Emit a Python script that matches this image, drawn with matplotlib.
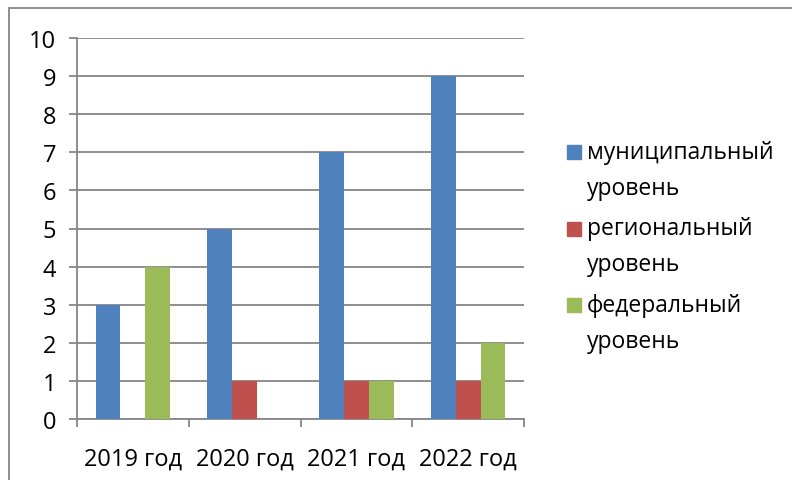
import matplotlib.pyplot as plt
import matplotlib.patches as mpatches
import numpy as np

plt.rcParams['font.family'] = ['Open Sans', 'DejaVu Sans']

years = ["2019 год", "2020 год", "2021 год", "2022 год"]
series_names = ["муниципальный уровень", "региональный уровень", "федеральный уровень"]
municipal = [3, 5, 7, 9]
regional = [0, 1, 1, 1]
federal = [4, 0, 1, 2]
colors = ["#4F81BD", "#C0504D", "#9BBB59"]

W, H = 792, 481
fig = plt.figure(figsize=(W / 100, H / 100), dpi=100)
ax = fig.add_axes([77 / W, 1 - 420 / H, 447 / W, 381 / H])

x = np.arange(len(years))
w = 1 / 4.5
for i, vals in enumerate([municipal, regional, federal]):
    ax.bar(x + (i - 1) * w, vals, width=w, color=colors[i], zorder=3)

ax.set_xlim(-0.5, len(years) - 0.5)
ax.set_ylim(0, 10)
ax.set_yticks(range(0, 11))
ax.yaxis.grid(True, color="#868686", linewidth=1.3, zorder=0)
ax.set_xticks(x)
ax.set_xticklabels(years)
ax.set_xticks(np.arange(-0.5, len(years)), minor=True)
ax.tick_params(axis="x", which="major", length=0, pad=20, labelsize=17)
ax.tick_params(axis="x", which="minor", length=6, width=1.3, color="#868686", direction="out")
ax.tick_params(axis="y", length=6, width=1.3, color="#868686", labelsize=17, pad=9)
for s in ["top", "right"]:
    ax.spines[s].set_visible(False)
for s in ["left", "bottom"]:
    ax.spines[s].set_color("#868686")
    ax.spines[s].set_linewidth(1.3)

# legend drawn by hand: marker beside the first line, label wrapped on two lines
for i, name in enumerate(series_names):
    first, second = name.split(" ")
    yc = 153 + i * 76.5
    fig.patches.append(mpatches.Rectangle((567 / W, 1 - (yc + 7) / H), 14 / W, 14 / H,
                                          transform=fig.transFigure, color=colors[i]))
    fig.text(587 / W, 1 - yc / H, first, fontsize=16.5, va="center", ha="left")
    fig.text(587 / W, 1 - (yc + 36) / H, second, fontsize=16.5, va="center", ha="left")

# outer chart border (cut off on right and bottom)
fig.patches.append(mpatches.Rectangle((9 / W, -0.1), 1.2, 1.1 - 9 / H, transform=fig.transFigure,
                                      fill=False, edgecolor="#868686", linewidth=1.3))

fig.savefig("out.png", dpi=100)
